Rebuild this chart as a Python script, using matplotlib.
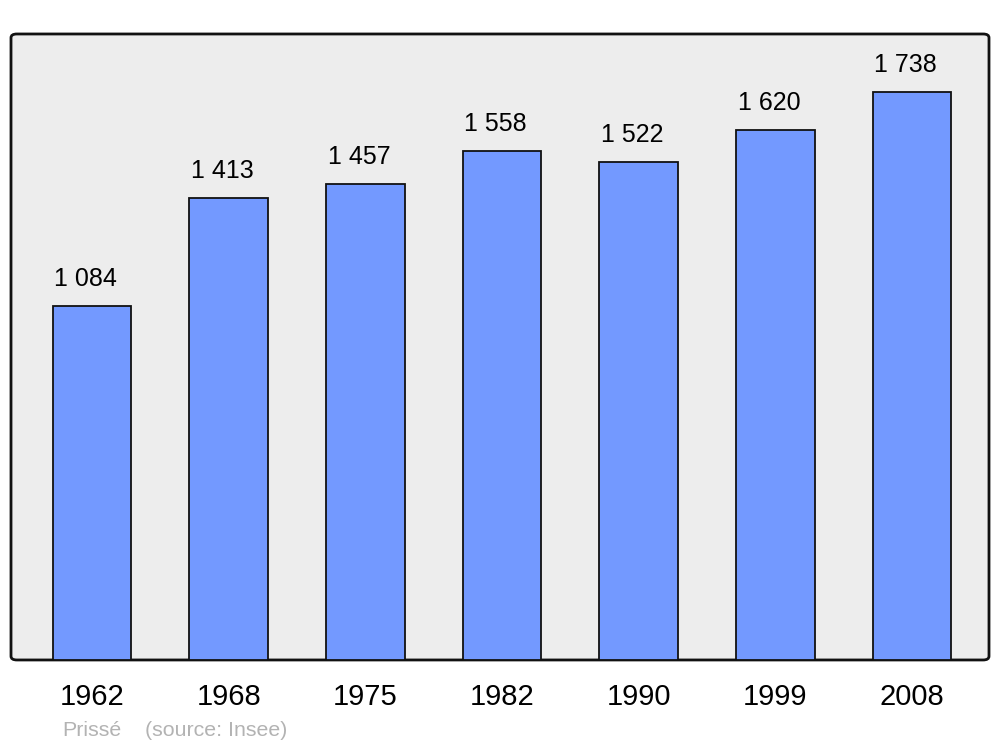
import matplotlib
matplotlib.use("Agg")
import matplotlib.pyplot as plt
from matplotlib.patches import FancyBboxPatch

years = ["1962", "1968", "1975", "1982", "1990", "1999", "2008"]
population = [1084, 1413, 1457, 1558, 1522, 1620, 1738]
value_labels = ["1 084", "1 413", "1 457", "1 558", "1 522", "1 620", "1 738"]

plt.rcParams['font.family'] = ['Liberation Sans', 'DejaVu Sans']

fig = plt.figure(figsize=(10, 7.47), dpi=100)
ax = fig.add_axes([0.011, 0.1165, 0.978, 0.838])
ax.set_facecolor('none')

# rounded background frame
frame = FancyBboxPatch((0, 0), 1, 1, boxstyle="round,pad=0,rounding_size=0.006",
                       transform=ax.transAxes, facecolor='#ededed',
                       edgecolor='#111111', linewidth=2.0, zorder=0, clip_on=False)
ax.add_patch(frame)

x = list(range(len(years)))
ax.bar(x, population, width=0.575, color='#7399ff', edgecolor='#111111',
       linewidth=1.3, zorder=2)

for xi, v, lab in zip(x, population, value_labels):
    ax.annotate(lab, (xi, v), xytext=(-4.5, 19.5), textcoords='offset points',
                ha='center', va='center', fontsize=18, color='black')

ax.set_xlim(-0.593, 6.563)
ax.set_ylim(0, 1915)
ax.set_xticks(x)
ax.set_xticklabels(years, fontsize=21)
for t in ax.get_xticklabels():
    t.set_x(t.get_position()[0])
ax.tick_params(axis='x', length=0, pad=16.5)
ax.set_yticks([])
for s in ax.spines.values():
    s.set_visible(False)

fig.text(0.062, 1 - 730 / 747, "Prissé", fontsize=15.4, color='#b3b3b3',
         ha='left', va='center')
fig.text(0.145, 1 - 730 / 747, "(source: Insee)", fontsize=15.4, color='#b3b3b3',
         ha='left', va='center')

fig.savefig("out.png", dpi=100)
